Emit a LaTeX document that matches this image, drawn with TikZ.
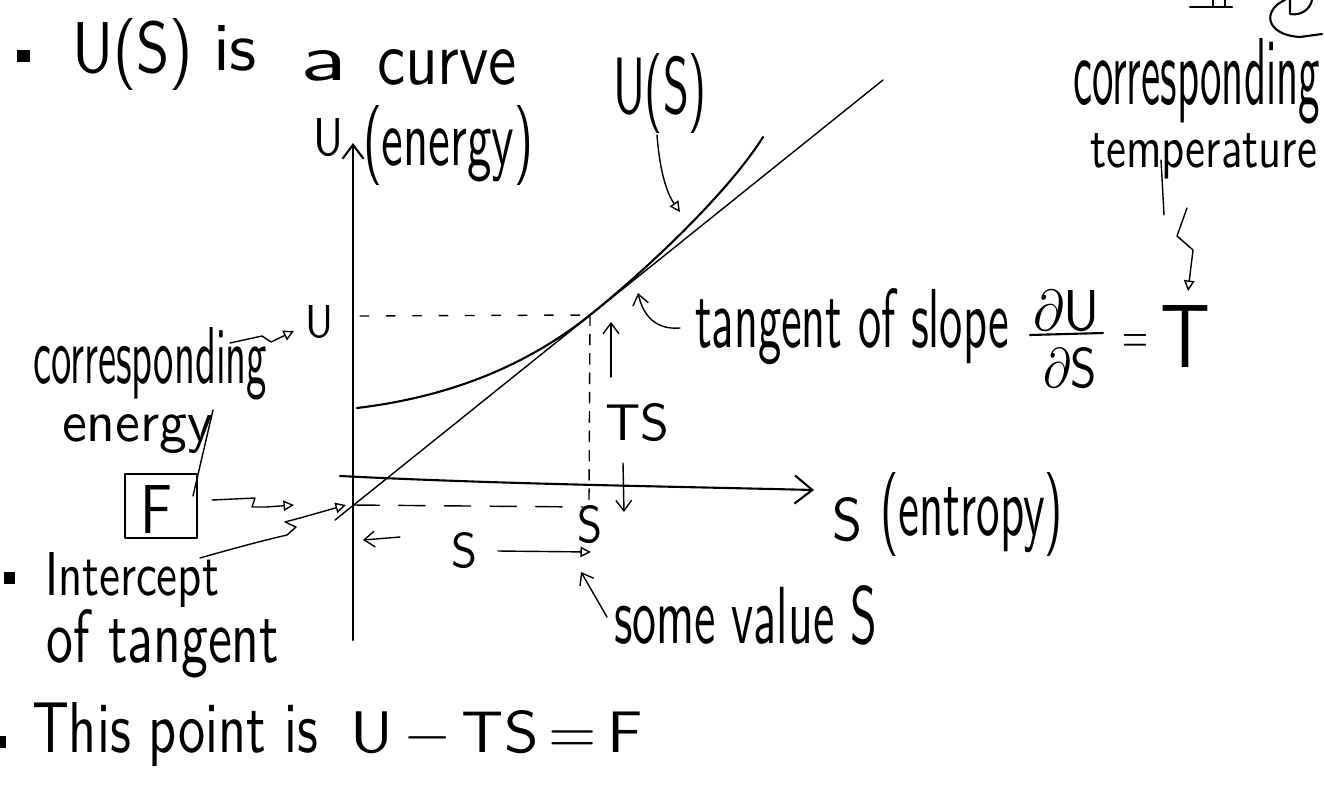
\documentclass[tikz,border=0pt]{standalone}
\usetikzlibrary{arrows.meta}
\newlength\pxu
\setlength\pxu{0.02cm}
\newcommand\hw[3]{\resizebox{#1\pxu}{#2\pxu}{\sffamily #3}}
\begin{document}
\begin{tikzpicture}[x=0.02cm,y=-0.02cm,line cap=round,line join=round,
  pen/.style={line width=1.2pt},
  fine/.style={line width=0.8pt},
  txt/.style={inner sep=0pt,outer sep=0pt,anchor=base west},
  barb/.style={-{Straight Barb[length=6pt,width=9pt]}},
  hollow/.style={-{Triangle[open,length=6pt,width=6pt]}},
  dshort/.style={dash pattern=on 5pt off 10pt},
  dlong/.style={dash pattern=on 15pt off 11pt},
  dvert/.style={dash pattern=on 6pt off 5pt}]
\useasboundingbox (0,0) rectangle (1324,791);
\clip (0,0) rectangle (1324,791);
% title line
\fill (17,50) rectangle (30,62);
\node[txt] (t1) at (72,72) {\hw{121}{54}{U(S)}};
\node[txt] (t2) at (213,70) {\hw{44}{45}{is}};
\node[txt] (t3) at (300,80) {\hw{47}{30}{a}};
\node[txt] (t4) at (377,84) {\hw{140}{35}{curve}};
% axis labels
\node[txt] (uax) at (313,155) {\hw{30}{37}{U}};
\node[txt] (uen) at (363,165) {\hw{170}{60}{(energy)}};
\node[txt] (us) at (613,113) {\hw{94}{60}{U(S)}};
% top right
\node[txt] (corrT) at (1073,104) {\hw{247}{66}{corresponding}};
\node[txt] (tempT) at (1090,167) {\hw{227}{34}{temperature}};
\draw[pen] (1190,7) -- (1232,7) (1213,0) -- (1213,7) (1225,0) -- (1225,7);
\draw[pen] (1285,0) .. controls (1262,10) and (1265,35) .. (1300,37) -- (1322,34);
\draw[pen] (1290,0) -- (1290,14) .. controls (1300,16) and (1310,10) .. (1312,0);
% tangent label
\node[txt] (tang) at (695,347) {\hw{314}{59}{tangent of slope}};
\node[txt] (num) at (1033,330) {\resizebox{67\pxu}{40\pxu}{$\partial$\sffamily U}};
\draw[pen] (1030,335) -- (1103,333);
\node[txt] (den) at (1043,387) {\resizebox{54\pxu}{40\pxu}{$\partial$\sffamily S}};
\node[txt] (eq) at (1122,352) {\hw{26}{18}{=}};
\node[txt] (T) at (1160,367) {\hw{50}{62}{T}};
% left labels
\node[txt] (uL) at (305,337) {\hw{28}{32}{U}};
\node[txt] (corrL) at (33,383) {\hw{234}{56}{corresponding}};
\node[txt] (enerL) at (62,441) {\hw{151}{27}{energy}};
\node[draw,pen,minimum width=72\pxu,minimum height=64\pxu,inner sep=0pt] (Fbox) at (161,506) {};
\node[txt] (F) at (140,533) {\hw{32}{48}{F}};
% middle labels
\node[txt] (TS) at (605,440) {\hw{64}{37}{TS}};
\node[txt] (Sd) at (577,542) {\hw{25}{37}{S}};
\node[txt] (Sm) at (451,567) {\hw{26}{35}{S}};
\node[txt] (some) at (614,643) {\hw{263}{58}{some value S}};
\node[txt] (Sent) at (832,540) {\hw{30}{43}{S}};
\node[txt] (ent) at (880,535) {\hw{183}{63}{(entropy)}};
% bottom left
\fill (4,572) rectangle (15,584);
\node[txt] (int) at (45,595) {\hw{174}{43}{Intercept}};
\node[txt] (oft) at (47,662) {\hw{232}{53}{of tangent}};
\fill (0,736) rectangle (6,748);
\node[txt] (this) at (32,752) {\hw{286}{50}{This point is}};
\node[txt] (eqn) at (350,752) {\hw{293}{42}{U\,$-$\,TS\,=\,F}};
% axes
\coordinate (axB) at (353,640); \coordinate (axT) at (353,143);
\draw[pen,-{Straight Barb[length=8pt,width=12pt]}] (axB) -- (axT);
\coordinate (sxL) at (340,476); \coordinate (sxR) at (814,490);
\draw[pen,-{Straight Barb[length=10pt,width=16pt]}] (sxL) .. controls (500,484) and (650,486) .. (sxR);
% tangent and curve
\coordinate (tLo) at (335,520); \coordinate (tHi) at (883,80);
\draw[fine] (tLo) -- (tHi);
\coordinate (cA) at (357,408); \coordinate (tp) at (590,315); \coordinate (cB) at (763,137);
\draw[pen] (cA) .. controls (440,398) and (520,371) .. (tp) .. controls (645,271) and (728,193) .. (cB);
\coordinate (icpt) at (353,505);
\draw[fine,dshort] (360,316) -- (tp);
\draw[fine,dvert] (tp) -- (589,500);
\draw[fine,dlong] (icpt) -- (583,507);
% arrows
\draw[fine,hollow] (657,135) .. controls (660,175) and (668,195) .. (680,212);
\draw[fine,barb] (680,328) .. controls (655,330) and (643,315) .. (638,293);
\draw[fine,barb] (611,377) -- (611,322);
\draw[fine,barb] (623,463) -- (624,512);
\draw[fine,barb] (400,537) -- (363,540);
\draw[fine,hollow] (498,551) -- (591,552);
\draw[fine,barb] (607,617) -- (581,572);
\draw[fine] (1161,160) -- (1164,215);
\draw[fine,hollow] (1187,208) -- (1177,236) -- (1193,250) -- (1188,291);
\draw[fine,hollow] (230,343) -- (262,336) -- (271,342) -- (294,331);
\draw[fine,hollow] (212,500) -- (255,498) -- (252,507) -- (266,507) -- (294,505);
\draw[fine,hollow] (200,558) .. controls (235,548) and (265,540) .. (287,535) -- (296,527) -- (285,522) -- (300,518) -- (346,505);
\draw[fine] (213,410) -- (193,496);
\end{tikzpicture}
\end{document}
